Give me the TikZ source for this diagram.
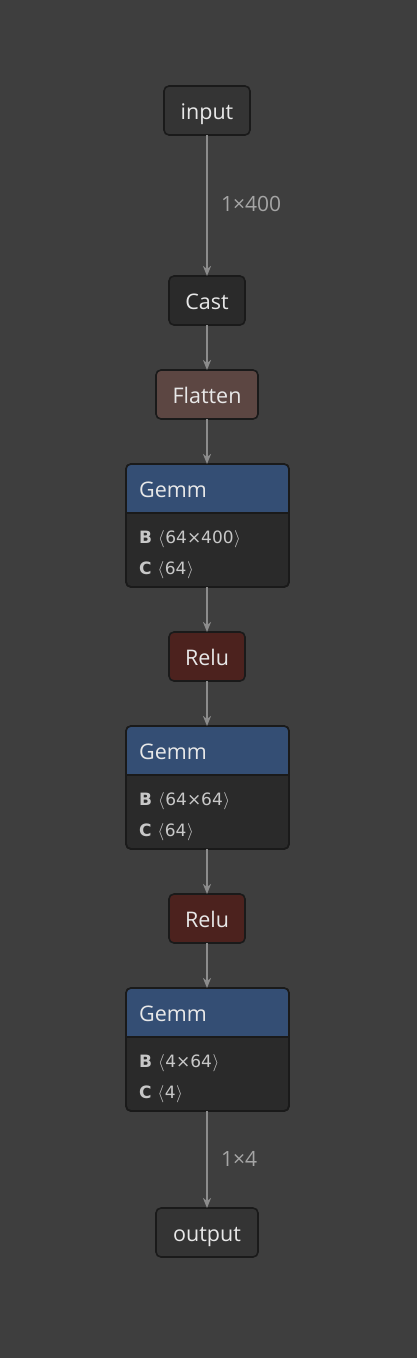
\documentclass[tikz,border=0pt]{standalone}
\usepackage{fontspec}
\setmainfont{Open Sans}
\newfontfamily\dejavu{DejaVu Sans}
\usetikzlibrary{arrows.meta}
\definecolor{bgc}{RGB}{62,62,62}
\definecolor{iofill}{RGB}{52,52,52}
\definecolor{opfill}{RGB}{42,42,42}
\definecolor{flatfill}{RGB}{92,70,66}
\definecolor{relufill}{RGB}{76,34,30}
\definecolor{gemmhead}{RGB}{52,78,116}
\definecolor{bordc}{RGB}{26,26,26}
\definecolor{edgec}{RGB}{140,140,140}
\definecolor{titlec}{RGB}{232,232,232}
\definecolor{bodyc}{RGB}{200,200,200}
\definecolor{labc}{RGB}{165,165,165}
\newcommand{\lbr}{\ensuremath{\langle}}
\newcommand{\rbr}{\ensuremath{\rangle}}
\tikzset{
  box/.style={draw=bordc, line width=1.6pt, rounded corners=5pt, minimum height=49pt, inner sep=0pt, outer sep=0pt, text=titlec, font=\fontsize{21.5}{25}\selectfont, text height=18pt, text depth=0pt},
  iobox/.style={box, fill=iofill},
  opbox/.style={box, fill=opfill},
  flatbox/.style={box, fill=flatfill},
  relubox/.style={box, fill=relufill, minimum width=76pt},
  gemmbox/.style={draw=bordc, line width=1.6pt, rounded corners=5pt, minimum width=163pt, minimum height=123pt, inner sep=0pt, outer sep=0pt, fill=opfill},
  gtitle/.style={anchor=base west, inner sep=0pt, text=titlec, font=\fontsize{21.5}{25}\selectfont},
  gbody/.style={anchor=base west, inner sep=0pt, text=bodyc, font=\dejavu\fontsize{17}{21}\selectfont},
  edge/.style={draw=edgec, line width=1.8pt, -{Stealth[length=10pt, width=8pt, inset=3pt]}},
  elabel/.style={anchor=west, inner sep=0pt, text=labc, font=\fontsize{21}{24}\selectfont}
}
\newcommand{\gemm}[4]{%
  \node[gemmbox] (#1) at #2 {};
  \begin{scope}
    \clip ([xshift=-2pt,yshift=2pt]#1.north west) rectangle ([xshift=2pt,yshift=-49pt]#1.north east);
    \fill[gemmhead, rounded corners=5pt] (#1.north west) rectangle (#1.south east);
  \end{scope}
  \draw[bordc, line width=1.6pt, rounded corners=5pt] (#1.north west) rectangle (#1.south east);
  \draw[bordc, line width=1.2pt] ([yshift=-49pt]#1.north west) -- ([yshift=-49pt]#1.north east);
  \node[gtitle] (#1t) at ([xshift=13pt,yshift=-33pt]#1.north west) {Gemm};
  \node[gbody] (#1b) at ([xshift=13pt,yshift=-79pt]#1.north west) {\textbf{B}\hspace{6pt}\lbr\hspace{0.5pt}#3\hspace{0.5pt}\rbr};
  \node[gbody] (#1c) at ([xshift=13pt,yshift=-110pt]#1.north west) {\textbf{C}\hspace{6pt}\lbr\hspace{0.5pt}#4\hspace{0.5pt}\rbr};
}
\begin{document}
\begin{tikzpicture}[x=1pt,y=-1pt]
\fill[bgc] (0,0) rectangle (417,1358);
\useasboundingbox (0,0) rectangle (417,1358);
\node[iobox, minimum width=86pt] (in) at (207,110.5) {input};
\node[opbox, minimum width=76pt] (cast) at (207,300.5) {Cast};
\node[flatbox, minimum width=102pt] (flat) at (207,394.5) {Flatten};
\gemm{g1}{(207.5,525.5)}{64×400}{64}
\node[relubox] (r1) at (207,656.5) {Relu};
\gemm{g2}{(207.5,787.5)}{64×64}{64}
\node[relubox] (r2) at (207,918.5) {Relu};
\gemm{g3}{(207.5,1049.5)}{4×64}{4}
\node[iobox, minimum width=102pt] (out) at (207,1232.5) {output};
\draw[edge] (in) -- (cast);
\draw[edge] (cast) -- (flat);
\draw[edge] (flat) -- (flat |- g1.north);
\draw[edge] (g1.south -| r1) -- (r1);
\draw[edge] (r1) -- (r1 |- g2.north);
\draw[edge] (g2.south -| r2) -- (r2);
\draw[edge] (r2) -- (r2 |- g3.north);
\draw[edge] (g3.south -| out) -- (out);
\node[elabel] (l1) at (221,204) {1×400};
\node[elabel] (l2) at (221,1159) {1×4};
\end{tikzpicture}
\end{document}
